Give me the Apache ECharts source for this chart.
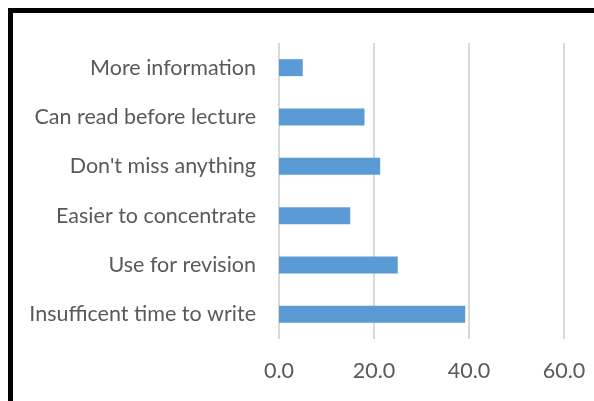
<!DOCTYPE html>
<html><head><meta charset="utf-8">
<script src="https://cdn.jsdelivr.net/npm/echarts@6/dist/echarts.min.js"></script>
<style>html,body{margin:0;padding:0;background:#fff}#c{width:594px;height:401px}</style>
</head><body><div id="c"></div>
<script>
const categories = ["More information","Can read before lecture","Don't miss anything","Easier to concentrate","Use for revision","Insufficent time to write"];
const values = [5.0, 18.0, 21.3, 15.0, 25.0, 39.2];
const xTicks = [0, 20, 40, 60];

const chart = echarts.init(document.getElementById('c'), null, {renderer:'canvas'});
chart.setOption({
  animation:false,
  backgroundColor:'#fff',
  graphic:[
    {type:'rect', shape:{x:8,y:8,width:586,height:5}, style:{fill:'#000'}},
    {type:'rect', shape:{x:8,y:8,width:5,height:393}, style:{fill:'#000'}}
  ],
  grid:{left:279, right:30, top:43, bottom:62, containLabel:false},
  xAxis:{type:'value', min:xTicks[0], max:xTicks[xTicks.length-1], interval:20,
    axisLine:{show:false}, axisTick:{show:false},
    splitLine:{show:true, lineStyle:{color:'#d9d9d9', width:2}},
    axisLabel:{color:'#595959', fontFamily:'Lato', fontSize:21.5, margin:21,
      formatter:v=>v.toFixed(1)}},
  yAxis:{type:'category', data:categories, inverse:true,
    axisLine:{show:false}, axisTick:{show:false},
    axisLabel:{color:'#595959', fontFamily:'Lato', fontSize:21.5, margin:23}},
  series:[{type:'bar', data:values, barWidth:17,
    itemStyle:{color:'#5b9bd5'}}]
});
</script></body></html>
